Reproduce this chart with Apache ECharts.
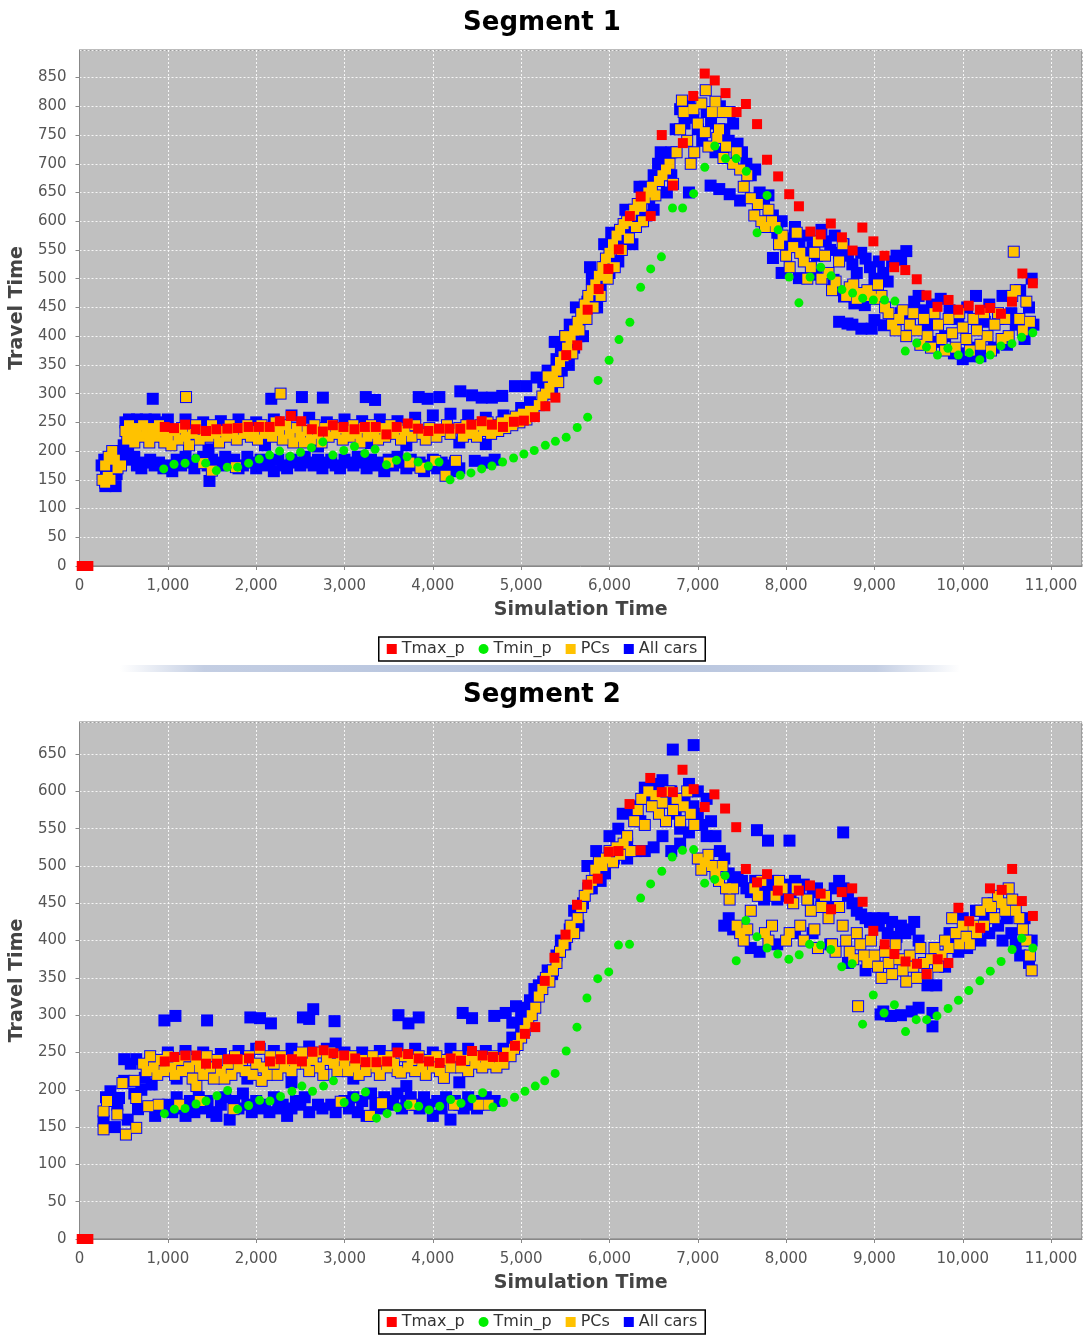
<!DOCTYPE html>
<html><head><meta charset="utf-8">
<script src="https://cdn.jsdelivr.net/npm/echarts@6/dist/echarts.min.js"></script>
<style>html,body{margin:0;padding:0;background:#fff}#c{width:1084px;height:1340px}</style>
</head><body><div id="c"></div>
<script>
// ---------- Segment 1 ----------
const seriesNames = ['Tmax_p','Tmin_p','PCs','All cars'];
const titles = ['Segment 1','Segment 2'];

const tmax1 = [[25,0],[60,0],[100,0],
[965,242],[1070,240],[1195,246],[1315,238],[1432,235],[1549,238],[1673,239],[1790,240],[1914,242],[2031,242],[2152,242],[2268,252],[2393,261],[2510,252],[2630,238],[2755,234],[2868,245],[2988,242],[3113,238],[3230,242],[3354,242],[3475,229],[3591,242],[3716,248],[3833,239],[3949,235],[4070,239],[4187,239],[4311,239],[4436,246],[4553,252],[4669,246],[4794,242],[4918,251],[5031,253],[5156,259],
[5274,278],[5388,293],[5510,367],[5635,384],[5753,446],[5878,482],[5988,517],[6106,551],[6231,609],[6353,643],[6467,609],[6592,750],[6718,662],[6831,736],[6949,818],[7079,857],[7192,845],[7314,823],[7439,790],[7545,804],[7671,769],[7784,707],[7910,678],[8035,647],[8145,626],[8275,582],[8392,577],[8506,596],[8632,572],[8753,549],[8863,589],[8988,565],[9114,540],[9224,520],[9349,515],[9479,499],[9589,471],[9714,451],[9839,463],[9949,446],[10067,453],[10193,446],[10310,449],[10432,439],[10557,460],[10675,509],[10793,492]];

const tmin1 = [[953,169],[1070,177],[1195,179],[1315,187],[1428,179],[1549,166],[1673,172],[1790,172],[1914,179],[2035,186],[2152,193],[2265,200],[2385,191],[2502,198],[2626,206],[2755,216],[2868,193],[2992,201],[3113,208],[3230,196],[3346,203],[3475,176],[3588,184],[3708,190],[3833,181],[3949,174],[4070,181],[4195,150],[4311,158],[4432,162],[4553,169],[4669,174],[4790,181],[4914,188],[5031,195],[5148,201],
[5274,210],[5388,217],[5510,224],[5635,241],[5753,259],[5871,323],[5996,358],[6108,394],[6231,424],[6353,485],[6467,517],[6588,538],[6714,623],[6828,623],[6953,648],[7079,694],[7192,731],[7314,709],[7435,709],[7549,687],[7671,580],[7784,645],[7910,585],[8035,503],[8145,458],[8271,503],[8392,520],[8510,505],[8632,481],[8753,475],[8867,466],[8988,463],[9114,463],[9232,461],
[9349,374],[9479,388],[9589,381],[9714,367],[9832,379],[9949,367],[10075,371],[10193,359],[10310,367],[10432,383],[10557,387],[10667,398],[10793,406]];

const pcs1 = [[260,150],[290,145],[320,155],[350,150],[290,175],[330,190],[370,200],[400,185],[430,170],[470,175],[520,235],[540,220],[560,245],[600,230],[620,215],[650,240],[690,225],[720,245],[760,230],[790,215],[830,240],[860,225],[900,245],[930,230],[960,215],[1000,225],[1040,210],[1080,235],[1120,220],[1160,240],[1200,225],[1206,294],[1240,210],[1280,230],[1320,245],[1360,220],[1401,179],[1420,235],[1460,225],[1498,166],[1500,245],[1540,230],[1580,215],[1620,235],[1660,225],[1700,245],[1740,230],[1770,172],[1780,220],[1820,240],[1860,230],[1900,245],[1940,225],[1980,235],[2020,220],[2060,245],[2100,230],[2140,240],[2180,225],[2220,250],[2260,235],[2276,300],[2300,220],[2340,245],[2380,230],[2420,215],[2460,240],[2500,225],[2540,215],[2580,235],[2620,220],[2660,245],[2700,230],[2740,215],[2780,240],[2820,225],[2860,245],[2900,230],[2940,240],[2980,220],[3020,235],[3060,225],[3100,245],[3140,230],[3180,215],[3220,240],[3260,225],[3300,245],[3340,230],[3380,220],[3420,240],[3460,225],[3500,180],[3520,245],[3560,230],[3600,240],[3640,220],[3680,235],[3735,180],[3760,225],[3800,245],[3860,171],[3880,230],[3920,220],[3960,240],[4027,183],[4040,225],[4080,235],[4144,157],[4160,245],[4200,230],[4261,183],[4300,240],[4340,225],[4380,245],[4420,230],[4460,240],[4500,225],[4540,245],[4580,235],[4620,250],[4660,230],[4700,245],[4740,235],[4780,250],[4820,240],[4860,255],[4900,245],[4940,260],[4980,250],[5020,265],[5060,255],[5100,270],[5140,265],
[5200,280],[5240,295],[5280,300],[5320,310],[5360,325],[5400,340],[5440,355],[5480,365],[5520,380],[5560,395],[5600,410],[5640,425],[5680,440],[5720,455],[5760,470],[5800,480],[5840,490],[5880,505],[5920,520],[5960,535],[6000,545],[6040,560],[6080,575],[6120,585],[6160,595],[6200,600],[6240,610],[6280,620],[6320,630],[6360,625],[6400,640],[6440,650],[6480,660],[6520,645],[6560,670],[6600,680],[6640,690],[6680,700],[6720,665],[6760,720],[6800,760],[6820,810],[6840,790],[6880,740],[6920,700],[6950,795],[6960,720],[7000,770],[7040,805],[7080,755],[7090,828],[7120,730],[7160,790],[7200,808],[7220,745],[7240,760],[7280,790],[7290,710],[7320,730],[7360,790],[7400,700],[7440,720],[7480,690],[7520,660],[7560,680],[7600,640],[7640,610],[7680,630],[7720,600],[7760,590],[7800,620],[7840,600],[7880,590],[7920,560],[7960,575],[8000,540],[8040,520],[8080,555],[8120,580],[8160,545],[8200,530],[8240,500],[8280,520],[8320,545],[8360,565],[8400,500],[8440,540],[8480,510],[8520,480],[8560,495],[8600,530],[8640,560],[8680,470],[8720,485],[8760,490],[8800,465],[8840,475],[8880,470],[8920,480],[8960,470],[9000,465],[9040,490],[9080,470],[9120,450],[9160,440],[9200,420],[9240,410],[9280,430],[9320,445],[9360,400],[9400,420],[9440,440],[9480,410],[9520,385],[9560,430],[9600,400],[9640,380],[9680,440],[9720,420],[9760,395],[9800,375],[9840,430],[9880,405],[9920,380],[9960,440],[10000,415],[10040,395],[10080,375],[10120,430],[10160,410],[10200,385],[10240,440],[10280,400],[10320,375],[10360,420],[10400,440],[10440,395],[10480,430],[10520,400],[10560,470],[10577,547],[10600,480],[10640,430],[10680,410],[10720,460],[10760,425],
[5300,330],[5420,320],[5500,400],[5580,370],[5660,410],[5740,430],[5820,450],[5900,470],[5980,500],[6060,520],[6140,550],[6220,570],[6300,590],[6380,600]];

const otherCars1 = [[250,175],[280,185],[300,165],[292,139],[330,140],[350,165],[380,175],[409,139],[420,160],[450,180],[480,200],[500,210],[520,250],[560,255],[600,250],[650,255],[700,250],[750,255],[800,250],[829,291],[850,255],[900,250],[550,195],[580,185],[620,190],[650,175],[700,170],[750,180],[800,185],[850,175],[900,180],[950,170],[1000,175],[1050,165],[1100,185],[1150,175],[1200,190],[1250,180],[1300,170],[1350,185],[1400,190],[1450,175],[1471,148],[1500,185],[1550,180],[1600,175],[1650,190],[1700,180],[1750,185],[1800,170],[1850,175],[1900,190],[1950,180],[2000,170],[2050,185],[2100,175],[2150,180],[2171,291],[2200,165],[2250,185],[2300,175],[2350,170],[2400,185],[2450,180],[2500,175],[2518,294],[2550,190],[2600,180],[2650,175],[2700,185],[2755,293],[2750,170],[2800,180],[2850,185],[2900,175],[2950,170],[3000,185],[3050,180],[3100,175],[3150,190],[3200,180],[3241,294],[3250,170],[3300,185],[3346,289],[3350,175],[3400,180],[3450,165],[3500,185],[3550,175],[3600,190],[3650,180],[3700,170],[3750,185],[3800,175],[3840,294],[3850,180],[3900,165],[3941,291],[3950,175],[4000,185],[4050,170],[4074,294],[4100,180],[4150,175],[4200,165],[4250,180],[4311,304],[4300,170],[4444,297],[4553,293],[4669,293],[4786,296],[4930,313],[5058,313],[5175,328],
[1000,255],[1200,255],[1400,250],[1600,252],[1800,255],[2000,250],[2200,255],[2400,262],[2600,258],[2800,250],[3000,255],[3200,252],[3400,255],[3600,252],[3800,258],[4000,262],[4200,265],[4400,262],[4600,258],[4800,262],[5000,275],[5100,285],
[1460,203],[2100,210],[2700,208],[3300,214],[3700,210],[4300,215],[4600,212],[4475,183],[4590,180],[4700,185],
[5250,320],[5300,340],[5350,300],[5400,360],[5450,380],[5500,400],[5550,420],[5600,380],[5650,400],[5700,440],[5750,460],[5800,500],[5850,470],[5900,490],[5950,520],[6000,510],[6050,530],[6100,560],[6150,580],[6200,570],[6250,590],[6300,615],[6350,600],[6400,660],[6450,640],[6500,680],[6550,700],[6600,690],[6650,710],[6700,680],[6750,760],[6800,795],[6850,770],[6900,800],[6950,780],[7000,760],[7050,740],[7100,790],[7150,770],[7200,720],[7250,800],[7300,760],[7350,740],[7400,770],[7450,735],[7500,720],[7550,700],[7600,680],[7650,690],[7700,650],[7750,630],[7800,645],[7145,662],[7243,656],[7361,647],[7479,636],[6700,720],[6650,650],[6900,650],[7850,610],[7900,580],[7950,600],[8000,570],[8050,560],[8100,590],[8150,560],[8200,545],[8250,575],[8300,555],[8350,540],[8400,585],[8450,565],[8500,550],[8550,575],[8600,545],[8650,560],[8700,540],[8750,525],[8800,510],[8850,545],[8900,535],[8950,520],[9000,500],[9050,530],[9100,510],[9150,495],[9200,530],[9250,540],[9302,533],[9361,548],
[7851,536],[7949,510],[8145,501],[8341,507],[8537,498],[8655,469],[8773,457],[8891,454],[8695,422],[8852,413],[8969,413],[9106,419],[9322,431],[8600,425],[8750,420],[9000,428],[9200,425],[9300,440],[9400,430],[9450,460],[9500,470],[9550,445],[9600,420],[9650,455],[9700,390],[9750,465],[9800,400],[9850,445],[9900,370],[9950,430],[10000,360],[10050,450],[10100,380],[10150,470],[10200,365],[10250,425],[10300,455],[10350,380],[10400,430],[10450,470],[10500,385],[10550,440],[10600,420],[10650,480],[10700,395],[10750,450],[10780,500],[10800,420],[9980,370],[10100,365],
[5380,390],[5460,340],[5540,350],[5620,450],[5700,400],[5780,520],[5860,450],[5940,560],[6020,580],[6100,530],[6180,620],[6260,560],[6340,660],[6420,610],[6500,620],[6580,720]];

// ---------- Segment 2 ----------
const tmax2 = [[25,0],[60,0],[100,0],
[965,238],[1074,244],[1198,246],[1323,246],[1432,235],[1556,235],[1681,241],[1790,241],[1918,242],[2043,259],[2156,238],[2276,241],[2405,241],[2518,238],[2638,251],[2763,253],[2875,249],[2996,246],[3121,242],[3237,237],[3362,237],[3482,238],[3599,250],[3720,248],[3840,242],[3957,238],[4078,236],[4202,242],[4319,239],[4444,252],[4564,246],[4681,244],[4801,244],[4930,259],[5043,275],[5160,284],
[5267,346],[5377,377],[5502,408],[5632,448],[5749,475],[5867,483],[5992,519],[6102,520],[6227,583],[6353,521],[6462,618],[6592,599],[6718,599],[6827,629],[6953,603],[7078,579],[7188,596],[7309,577],[7435,552],[7544,496],[7670,478],[7784,489],[7905,467],[8031,456],[8144,467],[8270,474],[8391,463],[8509,442],[8630,465],[8748,470],[8866,452],[8987,413],[9116,395],[9226,382],[9352,372],[9481,369],[9591,355],[9716,375],[9837,370],[9951,444],[10073,426],[10198,417],[10308,470],[10441,468],[10559,496],[10669,453],[10794,433]];

const tmin2 = [[961,168],[1074,174],[1195,175],[1319,181],[1432,185],[1556,192],[1677,199],[1790,174],[1914,179],[2039,186],[2156,185],[2276,191],[2405,198],[2518,205],[2638,198],[2763,205],[2875,212],[2996,183],[3121,190],[3237,197],[3362,162],[3482,168],[3599,176],[3720,180],[3840,178],[3957,173],[4078,178],[4202,187],[4319,182],[4444,188],[4564,196],[4681,177],[4801,183],[4926,190],[5043,198],[5160,205],
[5267,212],[5385,222],[5510,252],[5632,284],[5745,323],[5867,349],[5992,358],[6102,394],[6227,395],[6353,457],[6466,476],[6592,493],[6710,512],[6827,521],[6953,522],[7078,477],[7192,482],[7309,487],[7435,373],[7544,427],[7670,405],[7784,390],[7905,382],[8031,375],[8148,381],[8266,395],[8391,394],[8505,388],[8630,365],[8748,369],[8866,288],[8987,327],[9109,303],[9226,314],[9352,278],[9473,294],[9591,294],[9708,299],[9834,309],[9951,320],[10069,333],[10194,346],[10312,359],[10434,372],[10559,388],[10669,403],[10794,390]];

const pcs2 = [[272,147],[272,171],[311,185],[428,167],[525,140],[486,209],[623,212],[642,189],[642,149],[778,178],[895,180],
[720,235],[760,225],[800,245],[840,230],[880,220],[920,240],[960,225],[1000,245],[1040,230],[1080,220],[1128,180],[1120,240],[1160,225],[1200,245],[1240,230],[1280,215],[1323,205],[1362,185],[1320,240],[1360,230],[1400,220],[1440,245],[1480,230],[1520,215],[1560,240],[1600,225],[1640,215],[1680,235],[1743,174],[1720,220],[1760,245],[1800,230],[1840,240],[1880,225],[1920,245],[1960,220],[2000,235],[2062,212],[2040,255],[2080,230],[2120,220],[2160,245],[2200,235],[2240,220],[2280,245],[2320,230],[2360,240],[2400,225],[2440,235],[2480,245],[2520,250],[2560,235],[2600,225],[2640,240],[2680,250],[2720,230],[2760,220],[2800,240],[2840,250],[2880,235],[2920,225],[2957,184],[2960,245],[3000,235],[3040,225],[3080,245],[3120,230],[3160,220],[3200,240],[3240,225],[3288,165],[3280,235],[3320,245],[3360,230],[3400,220],[3424,182],[3440,240],[3480,230],[3520,245],[3560,235],[3600,225],[3638,223],[3680,245],[3720,230],[3755,180],[3760,240],[3800,225],[3840,245],[3880,230],[3920,220],[3960,240],[4000,230],[4040,245],[4080,225],[4125,216],[4160,240],[4200,230],[4241,180],[4280,245],[4320,230],[4360,240],[4400,225],[4440,245],[4480,235],[4514,180],[4520,245],[4560,230],[4600,240],[4630,180],[4640,235],[4680,245],[4720,230],[4760,240],[4800,235],[4840,250],[4880,245],[4920,255],[4960,260],[5000,270],[5040,280],[5080,290],[5120,300],[5160,310],[5200,325],[5240,335],[5280,350],[5320,345],[5360,360],[5400,370],[5440,385],[5480,395],[5520,405],[5560,420],[5600,410],[5640,430],[5680,445],[5720,460],[5760,470],[5800,480],[5840,495],[5880,505],[5920,500],[5960,510],[6000,520],[6040,505],[6080,525],[6120,515],[6160,530],[6200,540],[6240,520],[6280,560],[6320,575],[6360,590],[6400,555],[6440,600],[6480,580],[6520,595],[6560,570],[6600,585],[6640,560],[6680,600],[6720,575],[6760,590],[6800,560],[6840,580],[6880,600],[6920,570],[6960,555],[7000,510],[7040,495],[7080,505],[7120,515],[7160,500],[7200,490],[7240,480],[7280,500],[7320,470],[7360,455],[7400,470],[7440,420],[7480,410],[7520,400],[7560,415],[7600,440],[7640,470],[7680,460],[7720,480],[7760,410],[7800,400],[7840,420],[7880,460],[7920,480],[7960,470],[8000,400],[8040,410],[8080,450],[8120,470],[8160,420],[8200,400],[8240,455],[8280,440],[8320,415],[8360,390],[8400,445],[8440,460],[8480,430],[8520,395],[8560,385],[8600,445],[8640,420],[8680,400],[8720,385],[8760,375],[8815,312],[8800,410],[8840,395],[8880,380],[8920,370],[8960,400],[9000,380],[9040,365],[9080,350],[9120,385],[9160,370],[9200,355],[9240,395],[9280,375],[9320,360],[9360,345],[9400,380],[9440,365],[9480,350],[9520,390],[9560,370],[9600,355],[9640,375],[9680,390],[9720,365],[9760,380],[9800,400],[9840,390],[9880,430],[9920,410],[9960,395],[10000,420],[10040,405],[10080,395],[10120,420],[10160,410],[10200,440],[10240,420],[10280,450],[10320,445],[10360,430],[10400,460],[10440,450],[10480,440],[10520,470],[10560,455],[10600,440],[10640,430],[10680,415],[10720,400],[10760,380],[10780,360]];

const otherCars2 = [[961,293],[1086,299],[1444,293],[1934,297],[2043,296],[2167,289],[2529,297],[2646,308],[2600,295],[2887,292],[3611,300],[3724,289],[3840,297],[4338,303],[4444,296],[4696,299],[4825,303],[4942,312],[5000,300],[5050,310],
[272,158],[350,198],[428,180],[506,212],[506,241],[642,241],[447,189],[545,160],[662,174],[739,216],[817,207],[856,165],[300,190],[400,150],[580,235],[620,195],[700,200],
[1000,180],[1050,170],[1100,190],[1150,175],[1200,165],[1250,185],[1300,170],[1350,190],[1400,175],[1450,185],[1500,170],[1550,165],[1600,180],[1650,190],[1700,160],[1750,185],[1800,175],[1850,195],[1900,180],[1950,170],[2000,185],[2050,175],[2100,180],[2150,170],[2200,190],[2250,175],[2300,180],[2350,165],[2400,175],[2450,185],[2500,180],[2550,190],[2600,170],[2700,180],[2750,175],[2850,180],[2900,170],[3000,185],[3050,175],[3100,190],[3150,170],[3200,185],[3250,165],[3300,195],[3350,180],[3400,175],[3450,190],[3500,185],[3550,180],[3600,195],[3650,175],[3700,185],[3750,190],[3800,180],[3850,175],[3900,190],[3950,180],[4000,165],[4050,185],[4100,175],[4150,190],[4200,160],[4250,185],[4300,180],[4350,175],[4400,190],[4450,180],[4500,175],[4550,185],[4600,190],[4700,185],
[1000,250],[1200,252],[1400,250],[1600,248],[1800,252],[2000,255],[2200,252],[2400,255],[2600,258],[2800,255],[2900,262],[3000,250],[3200,250],[3400,252],[3600,255],[3800,255],[4000,250],[4200,255],[4400,255],[4600,252],[4800,255],[4900,270],[1100,215],[1900,215],[2400,210],[3100,215],[3700,205],[4300,210],
[4900,290],[5000,285],[5050,300],[5100,320],[5150,335],[5200,340],[5250,345],[5300,360],[5350,355],[5400,380],[5450,400],[5500,395],[5550,415],[5600,440],[5650,420],[5700,450],[5750,500],[5800,470],[5850,520],[5900,480],[5950,490],
[6000,540],[6050,510],[6100,550],[6150,570],[6200,530],[6250,575],[6300,580],[6350,560],[6400,605],[6450,590],[6500,610],[6550,600],[6600,615],[6650,585],[6700,600],[6717,656],[6750,570],[6800,550],[6850,590],[6900,610],[6953,662],[6950,580],[7000,570],[7050,555],[7100,590],[7150,560],[7200,540],[7250,520],[7300,510],[7350,490],[7400,480],[7450,485],[6200,510],[6300,520],[6400,520],[6500,525],[6600,540],[6700,520],[6800,530],[6900,545],[7000,600],[7100,540],[7670,548],[7795,534],[8038,534],[8646,545],
[7300,420],[7350,430],[7400,415],[7500,480],[7550,470],[7600,465],[7650,480],[7700,470],[7750,455],[7800,470],[7850,480],[7900,455],[7950,460],[8000,475],[8050,465],[8100,480],[8150,470],[8200,475],[8250,455],[8300,465],[8350,470],[8400,450],[8450,455],[8500,445],[8550,470],[8600,480],[8650,470],[8700,460],[8750,450],[8800,440],[8850,435],[8900,430],[8950,425],[9000,430],[9050,420],[9100,430],[9150,410],[9200,425],[9250,405],[9300,420],[9350,410],[9400,415],[9450,425],[9500,400],[7600,390],[7700,385],[7900,395],[8100,410],[8300,410],[8500,395],[8700,370],[8900,360],[9000,370],[9069,301],[9187,299],[9422,305],[9657,303],[9657,285],[9100,305],[9300,300],[9500,310],[9600,340],[9700,340],[9750,380],[9800,365],[9850,410],[9900,395],[9950,385],[10000,430],[10050,390],[10100,415],[10150,440],[10200,400],[10250,430],[10300,410],[10350,450],[10400,420],[10450,400],[10500,430],[10550,410],[10600,395],[10650,380],[10700,430],[10750,370],[10780,400]];

const allCars1 = otherCars1.concat(pcs1);
const allCars2 = otherCars2.concat(pcs2);

const FONT = 'DejaVu Sans';
const grids = [{top:50, height:516}, {top:722, height:517}];
const yMax = [898, 693];
const legendTop = [637, 1310];
const titleTop = [5, 677];

const chart = echarts.init(document.getElementById('c'), null, {renderer:'canvas'});

function axisCommon(){
  return {
    axisLine:{show:true, lineStyle:{color:'#888', width:1}},
    axisTick:{show:true, length:4, lineStyle:{color:'#888'}},
    splitLine:{show:true, lineStyle:{color:'#ffffff', type:[2,2], width:1, opacity:0.85}},
    nameTextStyle:{color:'#444', fontSize:19, fontWeight:'bold', fontFamily:FONT}
  };
}

const option = {
  animation:false,
  backgroundColor:'#ffffff',
  title: titles.map((t,i)=>({text:t, left:'center', top:titleTop[i],
    textStyle:{fontSize:26, fontWeight:'bold', color:'#000', fontFamily:FONT}})),
  legend: [0,1].map(i=>({
    top: legendTop[i], left:'center',
    data:[{name:'Tmax_p',icon:'rect'},{name:'Tmin_p',icon:'circle'},{name:'PCs',icon:'rect'},{name:'All cars',icon:'rect'}],
    itemWidth:10, itemHeight:10, itemGap:14,
    padding:[4,8,4,8],
    borderColor:'#000', borderWidth:1.5,
    textStyle:{fontSize:16, color:'#333', fontFamily:FONT}
  })),
  grid: grids.map(g=>({left:77, width:1005, top:g.top, height:g.height, show:true,
    backgroundColor:'#c0c0c0', borderColor:'#7a7a7a', borderWidth:1, containLabel:false})),
  xAxis: [0,1].map(i=>Object.assign(axisCommon(), {
    type:'value', gridIndex:i, min:0, max:11350, interval:1000, offset:5,
    name:'Simulation Time', nameLocation:'middle', nameGap:30,
    axisLabel:{color:'#555', fontSize:15, fontFamily:FONT, showMaxLabel:false, margin:8}
  })),
  yAxis: [0,1].map(i=>Object.assign(axisCommon(), {
    type:'value', gridIndex:i, min:0, max:yMax[i], interval:50, offset:5,
    name:'Travel Time', nameLocation:'middle', nameGap:44,
    axisLabel:{color:'#555', fontSize:15, fontFamily:FONT, showMaxLabel:false, margin:8}
  })),
  graphic: [{
    type:'rect', left:120, top:665, shape:{width:840, height:7},
    style:{fill:new echarts.graphic.LinearGradient(0,0,1,0,[
      {offset:0, color:'rgba(170,185,215,0)'},
      {offset:0.1, color:'rgba(170,185,215,0.7)'},
      {offset:0.5, color:'rgba(160,178,212,0.8)'},
      {offset:0.9, color:'rgba(170,185,215,0.7)'},
      {offset:1, color:'rgba(170,185,215,0)'}])},
    z:-1
  }],
  series: []
};

const sets = [
  {tmax:tmax1, tmin:tmin1, pcs:pcs1, all:allCars1},
  {tmax:tmax2, tmin:tmin2, pcs:pcs2, all:allCars2}
];
sets.forEach((s,i)=>{
  option.series.push(
    {name:'All cars', type:'scatter', xAxisIndex:i, yAxisIndex:i, data:s.all, symbol:'rect', symbolSize:12, itemStyle:{color:'#0000ff', opacity:1}, clip:true},
    {name:'PCs', type:'scatter', xAxisIndex:i, yAxisIndex:i, data:s.pcs, symbol:'rect', symbolSize:10, itemStyle:{color:'#ffc200', opacity:1}, clip:true},
    {name:'Tmax_p', type:'scatter', xAxisIndex:i, yAxisIndex:i, data:s.tmax, symbol:'rect', symbolSize:10, itemStyle:{color:'#ff0000', opacity:1}, clip:true},
    {name:'Tmin_p', type:'scatter', xAxisIndex:i, yAxisIndex:i, data:s.tmin, symbol:'circle', symbolSize:9, itemStyle:{color:'#00ee00', opacity:1}, clip:true}
  );
});

chart.setOption(option);
</script>
</body></html>
